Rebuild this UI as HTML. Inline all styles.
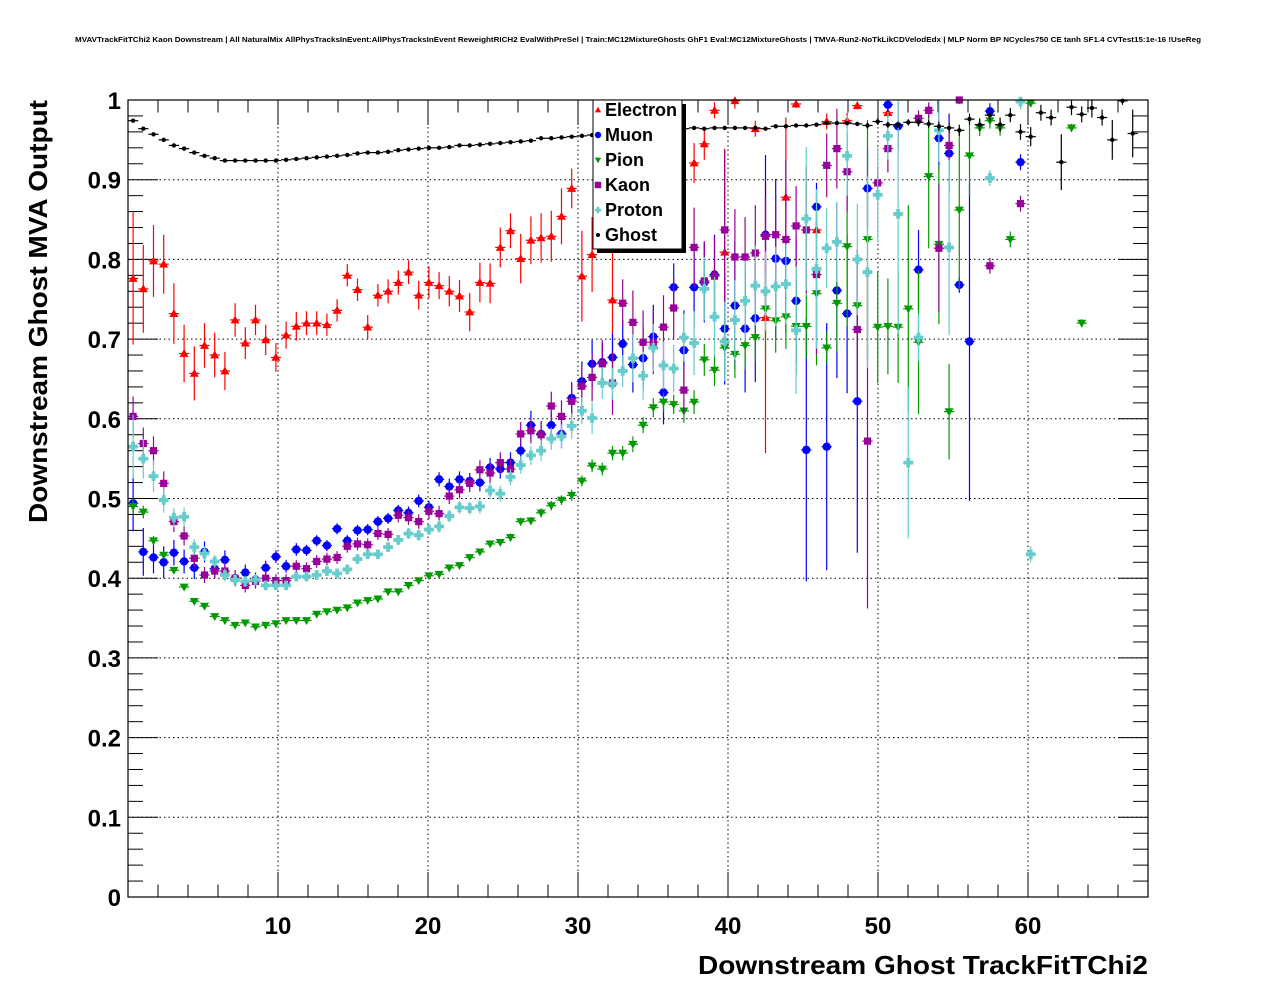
<!DOCTYPE html>
<html><head><meta charset="utf-8"><style>
html,body{margin:0;padding:0;background:#fff;}
svg{display:block;font-family:"Liberation Sans",Arial,sans-serif;}
</style></head><body>
<svg id="chart" width="1276" height="996" viewBox="0 0 1276 996" xmlns="http://www.w3.org/2000/svg">
<rect x="0" y="0" width="1276" height="996" fill="#fff"/>
<text x="638" y="42" font-size="7.2" font-weight="bold" text-anchor="middle" textLength="1126" lengthAdjust="spacingAndGlyphs">MVAVTrackFitTChi2 Kaon Downstream | All NaturalMix AllPhysTracksInEvent:AllPhysTracksInEvent ReweightRICH2 EvalWithPreSel | Train:MC12MixtureGhosts GhF1 Eval:MC12MixtureGhosts | TMVA-Run2-NoTkLikCDVelodEdx | MLP Norm BP NCycles750 CE tanh SF1.4 CVTest15:1e-16 !UseReg</text>
<g id="grid"></g>
<g id="axes"></g>
<g id="series"></g>
<rect x="128" y="100" width="1020" height="797" fill="none" stroke="#000" stroke-width="1.2"/>
<text x="1148" y="974" font-size="26" font-weight="bold" text-anchor="end" textLength="450" lengthAdjust="spacingAndGlyphs">Downstream Ghost TrackFitTChi2</text>
<text transform="translate(47,523) rotate(-90)" x="0" y="0" font-size="26" font-weight="bold" textLength="423" lengthAdjust="spacingAndGlyphs">Downstream Ghost MVA Output</text>
<g id="legend"></g>
</svg>
<script>
// ---- data ----
const xTicks = [10, 20, 30, 40, 50, 60];
const yTicks = [0, 0.1, 0.2, 0.3, 0.4, 0.5, 0.6, 0.7, 0.8, 0.9, 1];
const yTickLabels = ["0", "0.1", "0.2", "0.3", "0.4", "0.5", "0.6", "0.7", "0.8", "0.9", "1"];
const seriesNames = ["Electron", "Muon", "Pion", "Kaon", "Proton", "Ghost"];

const eBin = [0,1,2,3,4,5,6,7,8,9,10,11,12,13,14,15,16,17,18,19,20,21,22,23,24,25,26,27,28,29,30,31,32,33,34,35,36,37,38,39,40,41,42,43,44,45,47,55,56,57,58,59,61,62,64,65,67,68,70,71,74];
const eVal = [.776,.763,.798,.794,.732,.682,.657,.692,.680,.660,.724,.695,.724,.699,.677,.705,.716,.720,.720,.718,.736,.780,.762,.715,.755,.760,.771,.784,.755,.771,.767,.760,.754,.734,.771,.770,.815,.836,.801,.824,.827,.829,.854,.889,.779,.806,.749,.921,.945,.987,.809,.999,.964,.727,.878,.995,.837,.973,.974,.993,.984];
const eErr = [.083,.055,.045,.037,.038,.036,.034,.028,.028,.024,.021,.020,.019,.019,.018,.017,.018,.015,.015,.014,.014,.014,.014,.015,.014,.015,.015,.015,.018,.020,.017,.019,.020,.024,.025,.025,.025,.022,.031,.030,.031,.032,.035,.025,.057,.047,.07,.025,.02,.01,.13,.01,.01,.17,.1,.005,.01,.01,.01,.005,.01];

const mBin = [0,1,2,3,4,5,6,7,8,9,10,11,12,13,14,15,16,17,18,19,20,21,22,23,24,25,26,27,28,29,30,31,32,33,34,35,36,37,38,39,40,41,42,43,44,45,46,47,48,49,50,51,52,53,54,55,56,57,58,59,60,61,62,63,64,65,66,67,68,69,70,71,72,74,75,77,79,80,81,82,84,87];
const mVal = [.494,.433,.426,.420,.432,.421,.413,.433,.412,.423,.400,.407,.398,.413,.427,.415,.436,.435,.447,.441,.462,.447,.460,.461,.471,.475,.485,.482,.497,.489,.524,.515,.524,.522,.520,.539,.537,.545,.560,.592,.581,.592,.581,.626,.647,.669,.671,.677,.694,.668,.676,.703,.633,.765,.686,.765,.771,.781,.713,.742,.713,.726,.831,.801,.798,.748,.561,.866,.565,.761,.732,.622,.889,.994,.967,.787,.952,.933,.768,.697,.986,.922];
const mErr = [.035,.03,.02,.02,.016,.015,.014,.013,.012,.012,.01,.01,.009,.009,.008,.008,.008,.007,.007,.007,.007,.007,.007,.007,.007,.007,.007,.008,.008,.008,.009,.01,.01,.01,.011,.012,.012,.013,.015,.018,.016,.017,.018,.02,.025,.03,.025,.03,.03,.035,.04,.04,.04,.03,.05,.05,.05,.05,.07,.08,.08,.08,.1,.1,.09,.08,.165,.03,.155,.11,.1,.19,.05,.01,.03,.05,.04,.05,.01,.2,.01,.01];

const pBin = [0,1,2,3,4,5,6,7,8,9,10,11,12,13,14,15,16,17,18,19,20,21,22,23,24,25,26,27,28,29,30,31,32,33,34,35,36,37,38,39,40,41,42,43,44,45,46,47,48,49,50,51,52,53,54,55,56,57,58,59,60,61,62,63,64,65,66,67,68,69,70,71,72,73,74,75,76,77,78,79,80,81,82,83,84,85,86,88,92,93];
const pVal = [.490,.483,.447,.429,.410,.389,.371,.365,.352,.347,.341,.344,.339,.341,.343,.347,.347,.347,.355,.358,.360,.363,.369,.372,.374,.383,.383,.391,.397,.403,.405,.413,.416,.426,.433,.443,.445,.451,.471,.472,.482,.491,.498,.504,.522,.541,.537,.557,.557,.568,.592,.614,.621,.618,.610,.621,.674,.661,.689,.681,.692,.702,.738,.723,.728,.716,.716,.757,.689,.745,.816,.742,.825,.715,.716,.715,.738,.696,.904,.819,.609,.862,.930,.965,.974,.965,.825,.996,.965,.720];
const pErr = [.01,.008,.006,.005,.004,.004,.003,.003,.003,.003,.003,.003,.003,.003,.003,.003,.003,.003,.003,.003,.003,.003,.003,.003,.003,.003,.003,.003,.003,.003,.003,.004,.004,.004,.004,.004,.004,.005,.005,.005,.006,.006,.006,.007,.007,.008,.008,.009,.009,.01,.01,.012,.012,.012,.015,.015,.02,.02,.03,.03,.03,.03,.06,.04,.04,.06,.04,.09,.02,.06,.1,.05,.15,.07,.06,.07,.13,.09,.09,.1,.06,.1,.05,.01,.01,.01,.01,.005,.005,.005];

const kBin = [0,1,2,3,4,5,6,7,8,9,10,11,12,13,14,15,16,17,18,19,20,21,22,23,24,25,26,27,28,29,30,31,32,33,34,35,36,37,38,39,40,41,42,43,44,45,46,47,48,49,50,51,52,53,54,55,56,57,58,59,60,61,62,63,64,65,66,67,68,69,70,71,72,73,74,77,78,79,80,81,84,87];
const kVal = [.603,.569,.560,.519,.471,.453,.425,.404,.409,.409,.400,.391,.396,.400,.397,.397,.415,.412,.421,.424,.426,.440,.443,.442,.456,.455,.479,.476,.471,.484,.481,.503,.511,.519,.536,.532,.545,.537,.581,.585,.580,.616,.603,.622,.641,.652,.669,.645,.745,.721,.696,.696,.715,.739,.636,.815,.773,.779,.837,.803,.803,.808,.829,.831,.825,.842,.837,.781,.918,.939,.910,.712,.572,.896,.939,.977,.987,.814,.943,1.0,.792,.870];
const kErr = [.025,.02,.018,.015,.013,.012,.011,.01,.01,.01,.01,.009,.009,.009,.008,.008,.008,.008,.008,.008,.008,.008,.008,.008,.008,.008,.009,.009,.009,.01,.01,.01,.011,.011,.012,.012,.013,.014,.015,.016,.017,.018,.02,.02,.025,.03,.03,.04,.03,.04,.04,.04,.04,.04,.03,.05,.05,.05,.1,.06,.05,.06,.05,.05,.1,.05,.08,.1,.04,.05,.05,.08,.21,.02,.03,.01,.01,.08,.02,.005,.01,.01];

const rBin = [0,1,2,3,4,5,6,7,8,9,10,11,12,13,14,15,16,17,18,19,20,21,22,23,24,25,26,27,28,29,30,31,32,33,34,35,36,37,38,39,40,41,42,43,44,45,46,47,48,49,50,51,52,53,54,55,56,57,58,59,60,61,62,63,64,65,66,67,68,69,70,71,72,73,74,75,76,77,79,80,84,87,88];
const rVal = [.565,.550,.528,.498,.476,.477,.439,.431,.421,.404,.398,.396,.398,.391,.391,.391,.402,.402,.404,.409,.406,.411,.424,.430,.430,.439,.448,.456,.454,.461,.465,.478,.489,.488,.490,.510,.506,.527,.542,.554,.560,.575,.578,.591,.610,.601,.645,.644,.660,.676,.654,.689,.667,.663,.702,.695,.763,.728,.697,.724,.748,.767,.760,.766,.769,.711,.851,.788,.814,.822,.930,.800,.784,.881,.955,.857,.545,.702,.962,.815,.902,.998,.430];
const rErr = [.04,.025,.02,.016,.012,.012,.01,.009,.008,.008,.007,.007,.007,.006,.006,.006,.006,.006,.006,.006,.006,.006,.006,.006,.006,.006,.006,.007,.007,.007,.008,.008,.008,.008,.009,.01,.01,.01,.011,.012,.013,.014,.015,.016,.017,.02,.02,.02,.02,.03,.03,.03,.03,.03,.03,.04,.04,.05,.05,.05,.05,.05,.05,.05,.05,.08,.09,.1,.05,.05,.05,.07,.12,.06,.03,.15,.095,.03,.04,.11,.01,.01,.01];

const gBin = [0,1,2,3,4,5,6,7,8,9,10,11,12,13,14,15,16,17,18,19,20,21,22,23,24,25,26,27,28,29,30,31,32,33,34,35,36,37,38,39,40,41,42,43,44,45,46,47,48,49,50,51,52,53,54,55,56,57,58,59,60,61,62,63,64,65,66,67,68,69,70,71,72,73,74,75,76,77,78,79,80,81,82,83,84,85,86,87,88,89,90,91,92,93,94,95,96,97,98];
const gVal = [.974,.964,.957,.950,.943,.939,.934,.930,.927,.924,.924,.924,.924,.924,.924,.925,.926,.927,.928,.929,.930,.931,.933,.934,.934,.935,.937,.938,.939,.940,.940,.941,.943,.943,.944,.945,.946,.947,.948,.949,.952,.952,.953,.954,.955,.956,.957,.958,.959,.960,.961,.962,.963,.964,.964,.965,.964,.965,.965,.965,.965,.965,.964,.967,.967,.968,.968,.969,.971,.971,.971,.970,.968,.973,.969,.969,.972,.972,.970,.967,.965,.962,.976,.969,.981,.969,.981,.960,.954,.984,.978,.922,.991,.982,.990,.978,.950,.999,.958];
const gErr = [.002,.002,.002,.002,.002,.002,.002,.002,.002,.002,.002,.002,.002,.002,.002,.002,.002,.002,.002,.002,.002,.002,.002,.002,.002,.002,.002,.002,.002,.002,.002,.002,.002,.002,.002,.002,.002,.002,.002,.002,.002,.002,.002,.002,.002,.002,.002,.002,.002,.002,.002,.002,.002,.002,.002,.002,.002,.002,.002,.002,.002,.002,.002,.002,.002,.002,.002,.002,.002,.002,.002,.002,.004,.004,.004,.004,.004,.005,.005,.006,.006,.007,.007,.008,.008,.009,.009,.01,.012,.01,.01,.035,.01,.01,.012,.01,.025,.005,.03];

// ---- scales ----
const X0 = 128, X1 = 1148, Y0 = 897, Y1 = 100;
const xMin = 0, xMax = 68, yMin = 0, yMax = 1;
const binW = 0.68;
function sx(v){ return X0 + (v - xMin) / (xMax - xMin) * (X1 - X0); }
function sy(v){ return Y0 - (v - yMin) / (yMax - yMin) * (Y0 - Y1); }
const NS = "http://www.w3.org/2000/svg";
function mk(tag, attrs, parent){
  const e = document.createElementNS(NS, tag);
  for (const k in attrs) e.setAttribute(k, attrs[k]);
  parent.appendChild(e);
  return e;
}

// ---- grid ----
const grid = document.getElementById('grid');
xTicks.forEach(t => {
  const l = mk('line', {x1: sx(t), x2: sx(t), y1: Y1, y2: Y0, stroke: '#000', 'stroke-width': 1, 'stroke-dasharray': '1.5,3'}, grid);
  
  
});
yTicks.forEach(t => {
  if (t <= 0 || t >= 1) return;
  const l = mk('line', {x1: X0, x2: X1, y1: sy(t), y2: sy(t), stroke: '#000', 'stroke-width': 1, 'stroke-dasharray': '1.5,3'}, grid);
  
  
});

// ---- axes ticks & labels ----
const axes = document.getElementById('axes');
for (let i = 0; i <= 50; i++) {
  const v = i * 0.02; const y = sy(v);
  const len = (i % 5 === 0) ? 30 : 15;
  mk('line', {x1: X0, x2: X0 + len, y1: y, y2: y, stroke: '#000', 'stroke-width': 1}, axes);
  mk('line', {x1: X1, x2: X1 - len, y1: y, y2: y, stroke: '#000', 'stroke-width': 1}, axes);
}
for (let v = 2; v < xMax; v += 2) {
  const x = sx(v);
  const len = (v % 10 === 0) ? 25 : 12.5;
  mk('line', {x1: x, x2: x, y1: Y0, y2: Y0 - len, stroke: '#000', 'stroke-width': 1}, axes);
  mk('line', {x1: x, x2: x, y1: Y1, y2: Y1 + len, stroke: '#000', 'stroke-width': 1}, axes);
}
yTicks.forEach((t, i) => {
  const tx = mk('text', {x: 121, y: sy(t) + 9, 'font-size': 24, 'font-weight': 'bold', 'text-anchor': 'end'}, axes);
  tx.textContent = yTickLabels[i];
  
  
});
xTicks.forEach(t => {
  const tx = mk('text', {x: sx(t), y: 934, 'font-size': 24, 'font-weight': 'bold', 'text-anchor': 'middle'}, axes);
  tx.textContent = String(t);
  
  
});

// ---- markers ----
function marker(g, type, cx, cy, color, s){
  let e;
  if (type === 'tri-up') e = mk('polygon', {points: `${cx},${cy-s} ${cx-s},${cy+s*0.75} ${cx+s},${cy+s*0.75}`, fill: color}, g);
  else if (type === 'tri-down') e = mk('polygon', {points: `${cx},${cy+s} ${cx-s},${cy-s*0.75} ${cx+s},${cy-s*0.75}`, fill: color}, g);
  else if (type === 'circle') e = mk('circle', {cx: cx, cy: cy, r: s, fill: color}, g);
  else if (type === 'square') e = mk('rect', {x: cx - s, y: cy - s, width: 2*s, height: 2*s, fill: color}, g);
  else if (type === 'cross') {
    const a = s, b = s * 0.4;
    e = mk('path', {d: `M${cx-b},${cy-a}H${cx+b}V${cy-b}H${cx+a}V${cy+b}H${cx+b}V${cy+a}H${cx-b}V${cy+b}H${cx-a}V${cy-b}H${cx-b}Z`, fill: color}, g);
  }
  else e = mk('circle', {cx: cx, cy: cy, r: s, fill: color}, g);
  return e;
}

const seriesDefs = [
  {name: 'electron', bins: eBin, vals: eVal, errs: eErr, color: '#ff0000', type: 'tri-up', size: 4.5},
  {name: 'muon', bins: mBin, vals: mVal, errs: mErr, color: '#0000ff', type: 'circle', size: 4.2},
  {name: 'pion', bins: pBin, vals: pVal, errs: pErr, color: '#009a00', type: 'tri-down', size: 4.5},
  {name: 'kaon', bins: kBin, vals: kVal, errs: kErr, color: '#990099', type: 'square', size: 3.6},
  {name: 'proton', bins: rBin, vals: rVal, errs: rErr, color: '#66cccc', type: 'cross', size: 4.8},
  {name: 'ghost', bins: gBin, vals: gVal, errs: gErr, color: '#000000', type: 'dot', size: 2.2}
];
const seriesG = document.getElementById('series');
seriesDefs.forEach(sd => {
  const g = mk('g', {}, seriesG);
  
  
  sd.bins.forEach((b, i) => {
    const xc = (b + 0.5) * binW;
    const v = sd.vals[i], er = sd.errs[i];
    const cx = sx(xc), cy = sy(v);
    const hx1 = sx(xc - binW / 2), hx2 = sx(xc + binW / 2);
    const hl = mk('line', {x1: hx1, x2: hx2, y1: cy, y2: cy, stroke: sd.color, 'stroke-width': 1.2}, g);
    
    
    const top = sy(Math.min(v + er, 1.0)), bot = sy(Math.max(v - er, 0));
    const vl = mk('line', {x1: cx, x2: cx, y1: top, y2: bot, stroke: sd.color, 'stroke-width': 1.2}, g);
    
    
    const m = marker(g, sd.type, cx, cy, sd.color, sd.size);
    
    
  });
});

// ---- legend ----
const lg = document.getElementById('legend');
const sh = mk('rect', {x: 597, y: 104, width: 89, height: 149, fill: '#000'}, lg);


const box = mk('rect', {x: 593, y: 100, width: 89, height: 149, fill: '#fff', stroke: '#000', 'stroke-width': 1}, lg);


seriesDefs.forEach((sd, i) => {
  const yb = 116 + i * 25;
  const m = marker(lg, sd.type, 598, yb - 6, sd.color, sd.type === 'dot' ? 2 : 3.2);
  
  
  const t = mk('text', {x: 605, y: yb, 'font-size': 18, 'font-weight': 'bold'}, lg);
  t.textContent = seriesNames[i];
  
  
});
</script>
</body></html>
